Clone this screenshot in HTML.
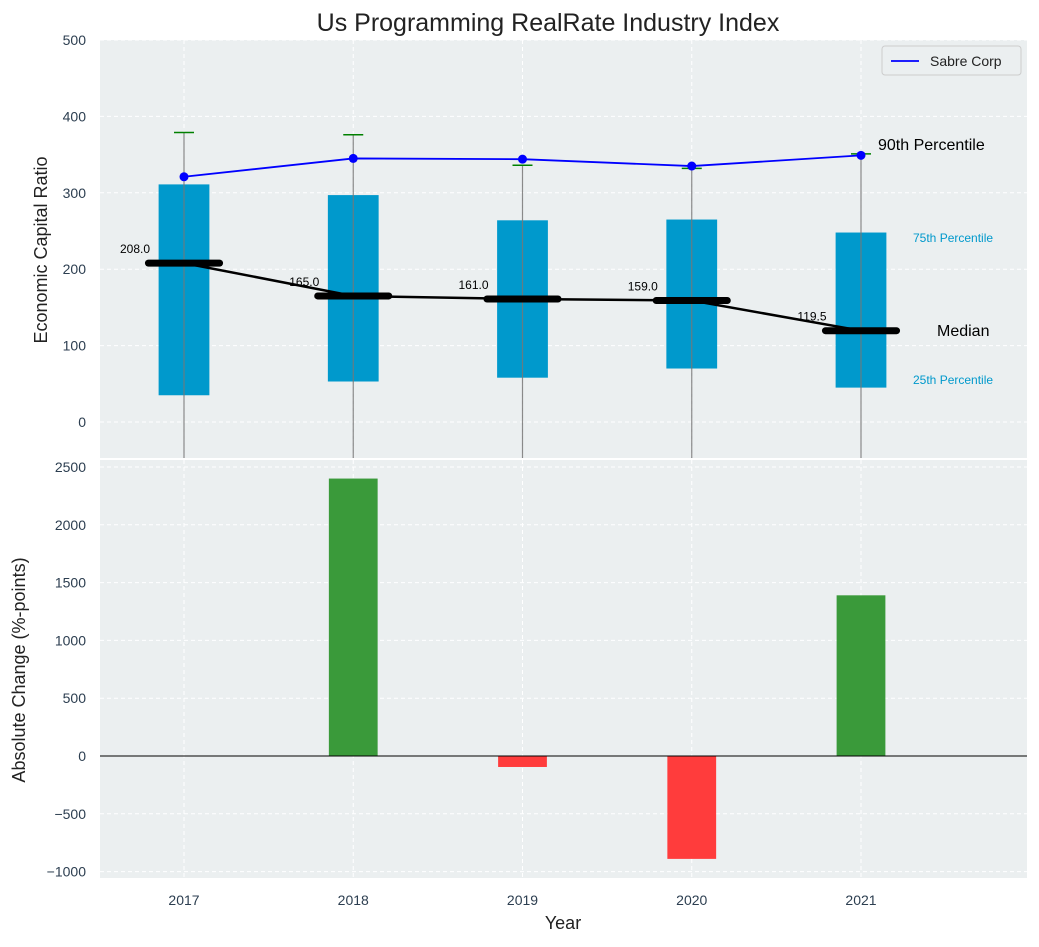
<!DOCTYPE html>
<html><head><meta charset="utf-8"><style>
body{margin:0;background:#fff;font-family:"Liberation Sans","DejaVu Sans",sans-serif}
</style></head><body>
<svg id="c" width="1039" height="942" xmlns="http://www.w3.org/2000/svg"></svg>
<script>
const years=[2017,2018,2019,2020,2021];
const q1=[35,53,58,70,45];
const q3=[311,297,264,265,248];
const whiskHi=[379,376,336,332,351];
const medians=[208,165,161,159,119.5];
const sabre=[321,345,344,335,349];
const changes=[0,2400,-95,-890,1390];
const topTicks=[0,100,200,300,400,500];
const botTicks=[-1000,-500,0,500,1000,1500,2000,2500];

const NS="http://www.w3.org/2000/svg";
const svg=document.getElementById('c');
function el(t,a,txt){const e=document.createElementNS(NS,t);for(const k in a)e.setAttribute(k,a[k]);if(txt!==undefined)e.textContent=txt;svg.appendChild(e);return e;}
const L=100,R=1027;
const UNIT=169.25;
const xS=v=>184+(v-2017)*UNIT;
const T0=40,T1=458,B0=460,B1=878;
const yT=v=>422-(v)*0.764;
const yB=v=>756-v*0.1156;

let e;
e=el('rect',{x:L,y:T0,width:R-L,height:T1-T0,fill:'#ebeff0'});


e=el('rect',{x:L,y:B0,width:R-L,height:B1-B0,fill:'#ebeff0'});


years.forEach(y=>{
  el('line',{x1:xS(y),x2:xS(y),y1:T0,y2:T1,stroke:'#fff','stroke-dasharray':'4,3','stroke-width':1});
  el('line',{x1:xS(y),x2:xS(y),y1:B0,y2:B1,stroke:'#fff','stroke-dasharray':'4,3','stroke-width':1});
  e=el('text',{x:xS(y),y:905,'text-anchor':'middle','font-size':14,fill:'#2c3e50'},y);
  
  
});
topTicks.forEach(t=>{
  el('line',{x1:L,x2:R,y1:yT(t),y2:yT(t),stroke:'#fff','stroke-dasharray':'4,3'});
  e=el('text',{x:86,y:yT(t)+5,'text-anchor':'end','font-size':14,fill:'#2c3e50'},t);
  
  
});
botTicks.forEach(t=>{
  el('line',{x1:L,x2:R,y1:yB(t),y2:yB(t),stroke:'#fff','stroke-dasharray':'4,3'});
  e=el('text',{x:86,y:yB(t)+5,'text-anchor':'end','font-size':14,fill:'#2c3e50'},(t<0?'\u2212'+(-t):t));
  
  
});
const bw=0.3*UNIT, mw=0.42*UNIT;
years.forEach((y,i)=>{
  const x=xS(y);
  e=el('rect',{x:x-bw/2,y:yT(q3[i]),width:bw,height:yT(q1[i])-yT(q3[i]),fill:'#0099cc'});
  
  
  e=el('line',{x1:x,x2:x,y1:yT(whiskHi[i]),y2:T1,stroke:'#777','stroke-width':1.2,opacity:0.85});
  
  
  e=el('line',{x1:x-10,x2:x+10,y1:yT(whiskHi[i]),y2:yT(whiskHi[i]),stroke:'green','stroke-width':1.5});
  
  
});
e=el('polyline',{points:years.map((y,i)=>xS(y)+','+yT(medians[i])).join(' '),fill:'none',stroke:'#000','stroke-width':2.5});


years.forEach((y,i)=>{
  const x=xS(y);
  e=el('line',{x1:x-mw/2,x2:x+mw/2,y1:yT(medians[i]),y2:yT(medians[i]),stroke:'#000','stroke-width':7,'stroke-linecap':'round'});
  
  
  e=el('text',{x:x-49,y:yT(medians[i])-10,'text-anchor':'middle','font-size':12,fill:'#000'},medians[i].toFixed(1));
  
  
});
e=el('polyline',{points:years.map((y,i)=>xS(y)+','+yT(sabre[i])).join(' '),fill:'none',stroke:'blue','stroke-width':1.8});


years.forEach((y,i)=>{
  e=el('circle',{cx:xS(y),cy:yT(sabre[i]),r:4.5,fill:'blue'});
  
  
});
[['90th Percentile',878,150,16,'#000'],['75th Percentile',913,242,12,'#0099cc'],['Median',937,336,16,'#000'],['25th Percentile',913,384,12,'#0099cc']].forEach(a=>{
  e=el('text',{x:a[1],y:a[2],'font-size':a[3],fill:a[4]},a[0]);
  
  
});
e=el('rect',{x:882,y:46,width:139,height:29,fill:'#ebeff0',stroke:'#ccc',rx:3});


el('line',{x1:891,x2:919,y1:61,y2:61,stroke:'blue','stroke-width':1.8});
e=el('text',{x:930,y:66,'font-size':14,fill:'#222'},'Sabre Corp');


years.forEach((y,i)=>{
  const v=changes[i];if(v===0)return;
  const x=xS(y);
  e=el('rect',{x:x-bw/2+1,y:Math.min(yB(v),yB(0)),width:bw-2,height:Math.abs(yB(v)-yB(0)),fill:v>0?'#3a9a3a':'#ff3c3c'});
  
  
});
el('line',{x1:L,x2:R,y1:yB(0),y2:yB(0),stroke:'#000','stroke-width':1});
e=el('text',{x:548,y:31,'text-anchor':'middle','font-size':25,fill:'#222'},'Us Programming RealRate Industry Index');


e=el('text',{x:563,y:929,'text-anchor':'middle','font-size':18,fill:'#222'},'Year');


e=el('text',{x:0,y:0,'text-anchor':'middle','font-size':18,fill:'#222',transform:'translate(47,250) rotate(-90)'},'Economic Capital Ratio');


e=el('text',{x:0,y:0,'text-anchor':'middle','font-size':18,fill:'#222',transform:'translate(25,670) rotate(-90)'},'Absolute Change (%-points)');


</script>
</body></html>
